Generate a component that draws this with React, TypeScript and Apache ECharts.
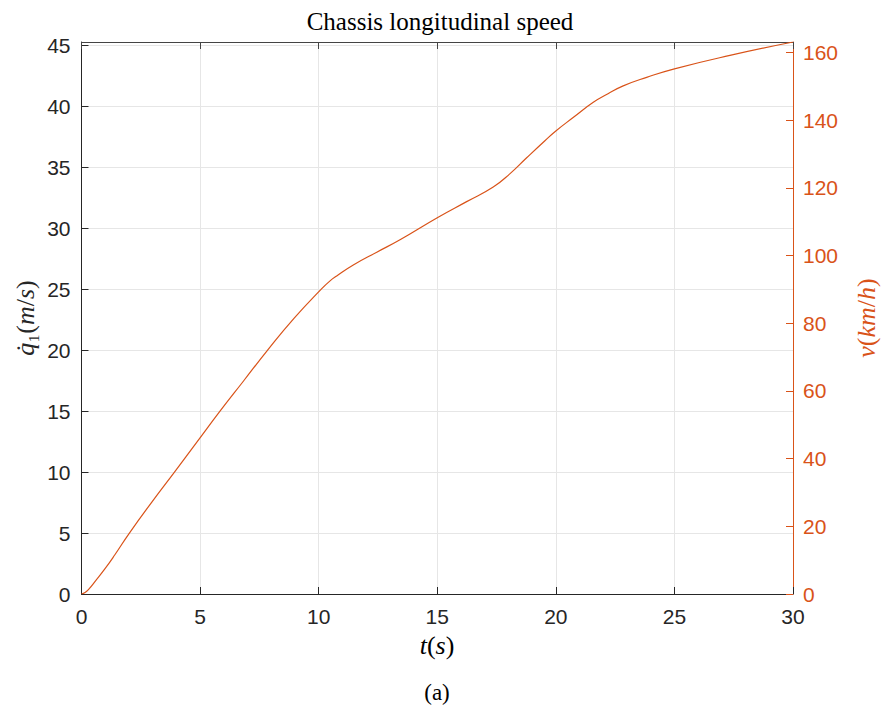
import React, { useEffect, useRef } from "react";
import * as echarts from "echarts";

const timeS = [0, 0.15, 0.3, 0.6, 1.0, 1.4, 2.02, 2.95, 3.92, 4.88, 5.84, 6.84, 7.84, 8.95, 10.1, 10.48, 10.76, 11.46, 12.45, 13.43, 15.02, 16.24, 17.36, 18.07, 18.77, 19.54, 20.0, 20.73, 21.58, 22.2, 22.84, 23.83, 25.0, 27.34, 30.0];
const speedMs = [0, 0.12, 0.38, 1.1, 2.1, 3.2, 5.0, 7.5, 10.0, 12.5, 15.0, 17.5, 20.0, 22.6, 25.0, 25.7, 26.1, 27.0, 28.05, 29.07, 30.9, 32.2, 33.4, 34.5, 35.8, 37.2, 38.0, 39.1, 40.35, 41.05, 41.7, 42.4, 43.1, 44.2, 45.3];
const leftMax = 45.3;
const rightMax = 45.3 * 3.6;
const titleText = "Chassis longitudinal speed";
const captionText = "(a)";

const ORANGE = "#D95319";
const DARK = "#262626";

export default function App() {
  const ref = useRef<HTMLDivElement>(null);
  useEffect(() => {
    document.body.style.margin = "0";
    const chart = echarts.init(ref.current!, null, { renderer: "svg" });
    const serif = "'Liberation Serif', 'DejaVu Serif', serif";
    const sans = "'Liberation Sans', Arial, sans-serif";
    const data = timeS.map((t, i) => [t, speedMs[i]]);
    const mathRich = (color: string, size: number) => ({
      i: { fontFamily: serif, fontStyle: "italic", fontSize: size, fill: color, color },
      n: { fontFamily: serif, fontSize: size, fill: color, color },
    });
    chart.setOption({
      animation: false,
      grid: { left: 81.5, right: 92, top: 42, bottom: 112 },
      xAxis: [
        {
          type: "value",
          min: 0,
          max: 30,
          interval: 5,
          position: "bottom",
          axisLine: { show: true, onZero: false, lineStyle: { color: DARK, width: 1 } },
          axisTick: { show: true, inside: true, length: 7, lineStyle: { color: DARK } },
          axisLabel: { color: DARK, fontFamily: sans, fontSize: 21, margin: 12 },
          splitLine: { show: true, lineStyle: { color: "#e6e6e6", width: 1 } },
        },
        {
          type: "value",
          min: 0,
          max: 30,
          interval: 5,
          position: "top",
          axisLine: { show: true, onZero: false, lineStyle: { color: "#444", width: 1 } },
          axisTick: { show: true, inside: true, length: 7, lineStyle: { color: "#444" } },
          axisLabel: { show: false },
          splitLine: { show: false },
        },
      ],
      yAxis: [
        {
          type: "value",
          min: 0,
          max: leftMax,
          interval: 5,
          position: "left",
          axisLine: { show: true, onZero: false, lineStyle: { color: DARK, width: 1 } },
          axisTick: { show: true, inside: true, length: 7, lineStyle: { color: DARK } },
          axisLabel: { color: DARK, fontFamily: sans, fontSize: 21, margin: 11, showMaxLabel: false },
          splitLine: { show: true, lineStyle: { color: "#e6e6e6", width: 1 } },
        },
        {
          type: "value",
          min: 0,
          max: rightMax,
          interval: 20,
          position: "right",
          axisLine: { show: true, onZero: false, lineStyle: { color: ORANGE, width: 1 } },
          axisTick: { show: true, inside: true, length: 7, lineStyle: { color: ORANGE } },
          axisLabel: { color: ORANGE, fontFamily: sans, fontSize: 21, margin: 10, showMaxLabel: false },
          splitLine: { show: false },
        },
      ],
      series: [
        {
          type: "line",
          xAxisIndex: 0,
          yAxisIndex: 0,
          data,
          showSymbol: false,
          smooth: 0.5,
          lineStyle: { color: ORANGE, width: 1.2 },
          z: 3,
        },
      ],
      graphic: [
        {
          type: "text",
          x: 440,
          y: 21,
          style: { text: titleText, font: `25px ${serif}`, fill: "#000", align: "center", verticalAlign: "middle" },
        },
        {
          type: "text",
          x: 25,
          y: 318,
          rotation: Math.PI / 2,
          style: {
            text: "{i|q\u0307}{n|\u2081(}{i|m}{n|/}{i|s}{n|)}",
            rich: mathRich(DARK, 26),
            fill: DARK,
            align: "center",
            verticalAlign: "middle",
          },
        },
        {
          type: "text",
          x: 866,
          y: 318,
          rotation: Math.PI / 2,
          style: {
            text: "{i|v}{n|(}{i|km}{n|/}{i|h}{n|)}",
            rich: mathRich(ORANGE, 26),
            fill: ORANGE,
            align: "center",
            verticalAlign: "middle",
          },
        },
        {
          type: "text",
          x: 437,
          y: 645,
          style: {
            text: "{i|t}{n|(}{i|s}{n|)}",
            rich: mathRich("#000", 26),
            align: "center",
            verticalAlign: "middle",
          },
        },
        {
          type: "text",
          x: 437,
          y: 692,
          style: { text: captionText, font: `23px ${serif}`, fill: "#000", align: "center", verticalAlign: "middle" },
        },
      ],
    });
    return () => chart.dispose();
  }, []);
  return <div ref={ref} style={{ width: 885, height: 706 }} />;
}
